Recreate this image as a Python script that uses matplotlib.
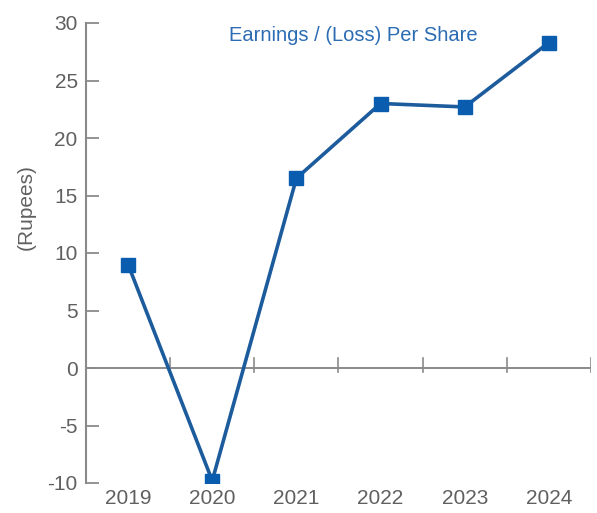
import matplotlib
matplotlib.use("Agg")
import matplotlib.pyplot as plt

years = ["2019", "2020", "2021", "2022", "2023", "2024"]
eps = [9.0, -9.8, 16.5, 23.0, 22.7, 28.3]
y_ticks = [-10, -5, 0, 5, 10, 15, 20, 25, 30]

plt.rcParams["font.family"] = ["Liberation Sans", "DejaVu Sans"]

fig = plt.figure(figsize=(5.97, 5.13), dpi=100)
ax = fig.add_axes([86 / 597, 1 - 483 / 513, (591 - 86) / 597, (483 - 23) / 513])

grey = "#8a8a8a"
text_grey = "#606060"
line_col = "#1c5b9c"
mark_col = "#0a5cae"

x = list(range(len(years)))
ax.plot(x, eps, color=line_col, lw=2.6, marker="s", ms=10,
        markerfacecolor=mark_col, markeredgecolor=mark_col, zorder=3)

ax.set_xlim(-0.5, len(years) - 0.5)
ax.set_ylim(-10, 30)

for s in ["top", "right", "bottom"]:
    ax.spines[s].set_visible(False)
ax.spines["left"].set_color(grey)
ax.spines["left"].set_linewidth(1.5)

ax.set_yticks(y_ticks)
ax.set_yticklabels([str(v) for v in y_ticks])
ax.tick_params(axis="y", direction="in", length=9, width=1.3, color=grey,
               labelsize=15, labelcolor=text_grey, pad=6)

# zero line with category boundary ticks
ax.axhline(0, color=grey, lw=1.4, zorder=1)
for b in range(1, len(years) + 1):
    ax.plot([b - 0.5, b - 0.5], [-0.35, 0.9], color=grey, lw=1.2, zorder=1)

ax.set_xticks(x)
ax.set_xticklabels(years)
ax.tick_params(axis="x", length=0, labelsize=15, labelcolor=text_grey, pad=4)

ax.set_ylabel("(Rupees)", fontsize=15, color=text_grey)
ax.yaxis.set_label_coords(-0.1, 0.6)

ax.text(2.68, 28.95, "Earnings / (Loss) Per Share", color="#2b6cb3",
        fontsize=14.5, ha="center", va="center")

fig.savefig("out.png", dpi=100)
